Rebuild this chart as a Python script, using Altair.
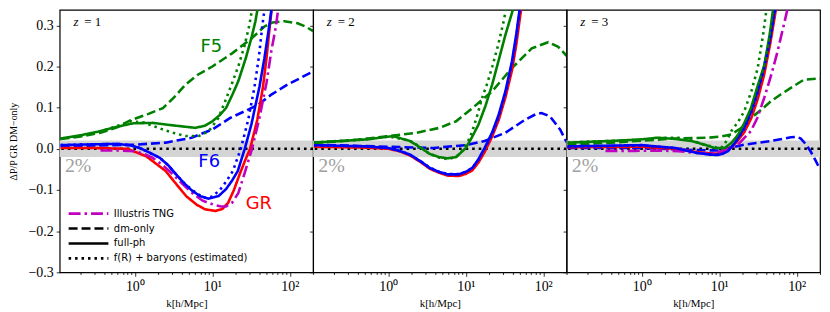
import altair as alt
import pandas as pd

# ---------------- axes ranges ----------------
K_DOMAIN = [0.107, 200]
V_DOMAIN = [-0.3, 0.3375]

X_TICKS = [0.2, 0.3, 0.4, 0.5, 0.6, 0.7, 0.8, 0.9, 1, 2, 3, 4, 5, 6, 7, 8, 9,
           10, 20, 30, 40, 50, 60, 70, 80, 90, 100, 200]
Y_TICKS = [-0.3, -0.2, -0.1, 0.0, 0.1, 0.2, 0.3]

MODEL_NAMES = ["GR", "TNG", "F6", "F5"]
MODEL_COLORS = ["#ff0000", "#bf00bf", "#0000ff", "#008000"]
KIND_NAMES = ["Illustris TNG", "dm-only", "full-ph", "f(R) + baryons (estimated)"]
KIND_COLORS = ["#bf00bf", "#000000", "#000000", "#000000"]
KIND_DASHES = [[12, 4, 2.5, 4], [9, 4], [1, 0], [2.5, 4]]

# ---------------- z = 1 ----------------
Z1_GR_PH_K = [0.11, 0.3, 0.8, 1.4, 2.5, 3.5, 4.6, 6.3, 8.1, 11, 13.5, 16, 19, 22.5, 26.5, 30.7, 38, 45, 50, 55, 60]
Z1_GR_PH_V = [0.002, 0.002, 0.0, -0.018, -0.054, -0.088, -0.115, -0.136, -0.147, -0.151, -0.146, -0.131, -0.1, -0.062, -0.028, 0.0, 0.07, 0.15, 0.22, 0.296, 0.36]
Z1_TNG_K = [0.36, 0.6, 1.0, 1.3, 1.7, 2.3, 3.1, 4.2, 5.7, 7.5, 10.5, 13, 15, 18, 21.6, 26, 32.5, 40, 50, 58, 66, 72]
Z1_TNG_V = [-0.004, -0.004, -0.006, -0.012, -0.022, -0.04, -0.062, -0.087, -0.11, -0.126, -0.136, -0.14, -0.14, -0.131, -0.108, -0.06, 0.0, 0.07, 0.16, 0.24, 0.296, 0.35]
Z1_F6_PH_K = [0.11, 0.3, 0.6, 0.9, 1.15, 1.5, 2.1, 2.7, 3.4, 4.4, 5.5, 7, 8.9, 12, 15, 18, 21.3, 26.2, 32, 40.5, 47, 54, 60]
Z1_F6_PH_V = [0.009, 0.011, 0.012, 0.008, 0.002, -0.008, -0.022, -0.04, -0.062, -0.085, -0.102, -0.115, -0.121, -0.115, -0.098, -0.077, -0.054, 0.0, 0.06, 0.15, 0.22, 0.296, 0.36]
Z1_F5_PH_K = [0.11, 0.2, 0.36, 0.6, 0.95, 1.7, 3.1, 6, 8, 10, 12.5, 15, 18, 21.6, 27, 32, 36, 40]
Z1_F5_PH_V = [0.025, 0.033, 0.043, 0.054, 0.062, 0.063, 0.057, 0.051, 0.056, 0.067, 0.082, 0.099, 0.13, 0.164, 0.22, 0.27, 0.31, 0.36]
Z1_F6_DM_K = [0.11, 0.3, 1, 2.5, 5.4, 10, 17, 26, 39, 57, 93, 140, 200]
Z1_F6_DM_V = [0.006, 0.008, 0.01, 0.015, 0.027, 0.047, 0.075, 0.091, 0.107, 0.131, 0.156, 0.173, 0.188]
Z1_F5_DM_K = [0.11, 0.2, 0.36, 0.6, 0.87, 1.5, 2.3, 3.2, 4.5, 6.5, 10, 18, 32, 47, 60, 85, 126, 160, 200]
Z1_F5_DM_V = [0.024, 0.03, 0.039, 0.053, 0.069, 0.085, 0.099, 0.125, 0.156, 0.18, 0.2, 0.232, 0.268, 0.297, 0.307, 0.31, 0.305, 0.297, 0.286]
Z1_F6_EST_K = [0.11, 0.3, 0.6, 0.9, 1.15, 1.5, 2.1, 2.7, 3.4, 4.4, 5.5, 7, 8, 10, 12.5, 15, 18.4, 23.3, 29, 35, 40, 44, 48]
Z1_F6_EST_V = [0.009, 0.011, 0.012, 0.008, 0.002, -0.008, -0.022, -0.04, -0.062, -0.085, -0.1, -0.114, -0.119, -0.116, -0.1, -0.08, -0.054, 0.0, 0.07, 0.15, 0.225, 0.296, 0.35]
Z1_F5_EST_K = [0.11, 0.2, 0.36, 0.6, 0.9, 1.3, 1.7, 2.3, 3.1, 4.5, 6.7, 9, 12, 14.6, 18, 21.6, 26, 30, 34]
Z1_F5_EST_V = [0.025, 0.032, 0.042, 0.056, 0.067, 0.064, 0.056, 0.047, 0.039, 0.031, 0.031, 0.043, 0.075, 0.115, 0.16, 0.2, 0.25, 0.3, 0.36]

# ---------------- z = 2 ----------------
Z2_GR_PH_K = [0.11, 0.5, 1, 1.4, 1.9, 2.6, 3.4, 4.5, 5.8, 8.1, 10, 12.2, 14.6, 17.5, 21.9, 26.6, 32.5, 39.4, 45, 51, 55]
Z2_GR_PH_V = [0.005, 0.003, 0.0, -0.006, -0.016, -0.032, -0.048, -0.058, -0.065, -0.066, -0.061, -0.052, -0.033, -0.008, 0.03, 0.07, 0.125, 0.19, 0.255, 0.33, 0.37]
Z2_F6_PH_K = [0.11, 0.5, 1, 1.4, 1.9, 2.6, 3.4, 4.5, 5.8, 8.1, 10, 12.2, 14.6, 17.5, 21.9, 26.6, 32.5, 39.4, 45, 51]
Z2_F6_PH_V = [0.009, 0.006, 0.002, -0.005, -0.014, -0.03, -0.046, -0.056, -0.062, -0.062, -0.056, -0.046, -0.025, 0.002, 0.04, 0.083, 0.14, 0.212, 0.28, 0.357]
Z2_F5_PH_K = [0.11, 0.54, 1.15, 1.9, 2.6, 3.4, 4.5, 5.8, 7.5, 10, 12, 14.6, 18, 21.9, 27, 32.5, 38, 44]
Z2_F5_PH_V = [0.015, 0.023, 0.031, 0.019, 0.003, -0.012, -0.02, -0.023, -0.02, 0.002, 0.028, 0.059, 0.105, 0.156, 0.22, 0.277, 0.32, 0.36]
Z2_F6_DM_K = [0.11, 0.3, 1, 3.8, 10, 17.5, 32.4, 58.6, 80, 95, 122, 165, 200]
Z2_F6_DM_V = [0.01, 0.008, 0.005, 0.002, 0.009, 0.019, 0.039, 0.071, 0.084, 0.087, 0.079, 0.047, 0.016]
Z2_F5_DM_K = [0.11, 0.32, 1.0, 2.3, 4.6, 7.5, 12.2, 21.9, 39.4, 71, 116, 156, 200]
Z2_F5_DM_V = [0.015, 0.02, 0.031, 0.039, 0.051, 0.067, 0.099, 0.14, 0.196, 0.244, 0.259, 0.248, 0.226]
Z2_F6_EST_K = [0.11, 0.5, 1, 1.4, 1.9, 2.6, 3.4, 4.5, 5.8, 8.1, 10, 12.2, 14.6, 17.5, 21.9, 26.6, 32.5, 39.4, 45, 51]
Z2_F6_EST_V = [0.008, 0.006, 0.002, -0.005, -0.014, -0.03, -0.045, -0.056, -0.061, -0.061, -0.056, -0.046, -0.026, 0.0, 0.036, 0.078, 0.135, 0.205, 0.272, 0.35]
Z2_F5_EST_K = [0.11, 0.54, 1.0, 1.9, 2.6, 3.4, 4.5, 5.8, 7.5, 9, 10.5, 12, 14, 16, 19, 22, 26, 30, 35]
Z2_F5_EST_V = [0.015, 0.024, 0.03, 0.02, 0.004, -0.012, -0.021, -0.025, -0.02, -0.005, 0.015, 0.04, 0.08, 0.12, 0.16, 0.2, 0.25, 0.3, 0.36]

# ---------------- z = 3 ----------------
Z3_GR_PH_K = [0.11, 1, 2.7, 5.2, 7.5, 9.6, 11, 12.9, 16, 21, 26, 31.3, 38, 46, 56]
Z3_GR_PH_V = [0.004, 0.005, 0.0, -0.008, -0.011, -0.012, -0.009, -0.002, 0.012, 0.04, 0.075, 0.12, 0.18, 0.26, 0.357]
Z3_TNG_K = [0.34, 0.8, 1.6, 3, 5.3, 7.5, 9.6, 12, 17.4, 25.6, 31, 38, 47, 56.5, 68, 80]
Z3_TNG_V = [-0.005, -0.005, -0.004, -0.006, -0.01, -0.011, -0.008, -0.003, 0.01, 0.043, 0.075, 0.123, 0.18, 0.236, 0.3, 0.357]
Z3_F6_PH_K = [0.11, 1, 2.7, 5.2, 7.5, 9.6, 11, 12.9, 16, 21, 26, 31.3, 38, 46, 54]
Z3_F6_PH_V = [0.006, 0.009, 0.002, -0.01, -0.014, -0.015, -0.012, -0.006, 0.015, 0.051, 0.092, 0.14, 0.2, 0.277, 0.357]
Z3_F5_PH_K = [0.11, 0.5, 1, 1.6, 2.7, 4.4, 6.5, 8.7, 11.7, 14.5, 17.6, 21, 25.7, 31, 38.3, 45, 51]
Z3_F5_PH_V = [0.015, 0.02, 0.023, 0.027, 0.024, 0.019, 0.01, 0.002, 0.002, 0.015, 0.035, 0.062, 0.099, 0.15, 0.204, 0.28, 0.357]
Z3_F6_DM_K = [0.11, 1, 4.4, 9.6, 14, 21, 30, 46, 65, 84, 100, 113, 130, 151, 175, 200]
Z3_F6_DM_V = [0.002, 0.002, -0.003, -0.004, 0.003, 0.01, 0.014, 0.019, 0.024, 0.028, 0.029, 0.025, 0.012, -0.006, -0.028, -0.05]
Z3_F5_DM_K = [0.11, 0.4, 1, 2.7, 7.2, 10.5, 14.3, 19, 25.7, 35, 46, 62, 84, 124, 200]
Z3_F5_DM_V = [0.01, 0.015, 0.02, 0.025, 0.027, 0.03, 0.035, 0.05, 0.075, 0.095, 0.115, 0.132, 0.148, 0.168, 0.171]
Z3_F6_EST_K = [0.11, 1, 2.7, 5.2, 7.5, 9.6, 11, 12.9, 16, 21, 26, 31.3, 38, 46, 54]
Z3_F6_EST_V = [0.005, 0.008, 0.002, -0.01, -0.013, -0.014, -0.012, -0.005, 0.014, 0.048, 0.088, 0.135, 0.195, 0.27, 0.35]
Z3_F5_EST_K = [0.11, 0.5, 1, 2, 3, 4.4, 6.5, 8.7, 10.6, 12.5, 14.3, 17.5, 21, 26, 31.4, 37, 42]
Z3_F5_EST_V = [0.015, 0.02, 0.022, 0.027, 0.027, 0.02, 0.01, 0.004, 0.002, 0.02, 0.043, 0.065, 0.091, 0.14, 0.196, 0.28, 0.357]

# draw order: first listed is drawn first
SERIES = [
    (1, "F6", "dm-only", Z1_F6_DM_K, Z1_F6_DM_V),
    (1, "F5", "dm-only", Z1_F5_DM_K, Z1_F5_DM_V),
    (1, "GR", "full-ph", Z1_GR_PH_K, Z1_GR_PH_V),
    (1, "TNG", "Illustris TNG", Z1_TNG_K, Z1_TNG_V),
    (1, "F6", "full-ph", Z1_F6_PH_K, Z1_F6_PH_V),
    (1, "F5", "full-ph", Z1_F5_PH_K, Z1_F5_PH_V),
    (1, "F6", "f(R) + baryons (estimated)", Z1_F6_EST_K, Z1_F6_EST_V),
    (1, "F5", "f(R) + baryons (estimated)", Z1_F5_EST_K, Z1_F5_EST_V),
    (2, "F6", "dm-only", Z2_F6_DM_K, Z2_F6_DM_V),
    (2, "F5", "dm-only", Z2_F5_DM_K, Z2_F5_DM_V),
    (2, "GR", "full-ph", Z2_GR_PH_K, Z2_GR_PH_V),
    (2, "F6", "full-ph", Z2_F6_PH_K, Z2_F6_PH_V),
    (2, "F5", "full-ph", Z2_F5_PH_K, Z2_F5_PH_V),
    (2, "F6", "f(R) + baryons (estimated)", Z2_F6_EST_K, Z2_F6_EST_V),
    (2, "F5", "f(R) + baryons (estimated)", Z2_F5_EST_K, Z2_F5_EST_V),
    (3, "F6", "dm-only", Z3_F6_DM_K, Z3_F6_DM_V),
    (3, "F5", "dm-only", Z3_F5_DM_K, Z3_F5_DM_V),
    (3, "GR", "full-ph", Z3_GR_PH_K, Z3_GR_PH_V),
    (3, "TNG", "Illustris TNG", Z3_TNG_K, Z3_TNG_V),
    (3, "F6", "full-ph", Z3_F6_PH_K, Z3_F6_PH_V),
    (3, "F5", "full-ph", Z3_F5_PH_K, Z3_F5_PH_V),
    (3, "F6", "f(R) + baryons (estimated)", Z3_F6_EST_K, Z3_F6_EST_V),
    (3, "F5", "f(R) + baryons (estimated)", Z3_F5_EST_K, Z3_F5_EST_V),
]

# annotations
BAND = [-0.02, 0.02]
Z_LABEL_POS = (0.161, 0.307)
PCT_POS = (0.125, -0.042)
MODEL_LABELS = ["F5", "F6", "GR"]
MODEL_LABEL_K = [7.05, 6.6, 27.0]
MODEL_LABEL_V = [0.247, -0.032, -0.135]
MODEL_LABEL_COLORS = ["#008000", "#0000ff", "#ff0000"]

rows = []
for i, (z, m, kd, ks, vs) in enumerate(SERIES):
    for k, v in zip(ks, vs):
        rows.append(dict(z=z, model=m, kind=kd, sid=f"{i:02d}", k=k, v=v))
df = pd.DataFrame(rows)

SERIF = "Liberation Serif"
SANS = "DejaVu Sans"

x_scale = alt.Scale(type="log", domain=K_DOMAIN, nice=False)
y_scale = alt.Scale(domain=V_DOMAIN, nice=False, zero=False)

MAJOR_TEST = "datum.value == 1 || datum.value == 10 || datum.value == 100"


def x_axis():
    return alt.Axis(
        values=X_TICKS,
        labelExpr="datum.value == 1 ? '10⁰' : datum.value == 10 ? '10¹' : datum.value == 100 ? '10²' : ''",
        tickSize={"condition": {"test": MAJOR_TEST, "value": 4}, "value": 2.2},
        tickColor="black", tickWidth=0.8,
        title="k[h/Mpc]", titleFont=SERIF, titleFontSize=11, titleFontWeight="normal",
        titleColor="black", titlePadding=4,
        labelFont=SERIF, labelFontSize=14, labelColor="black", labelPadding=3,
        labelOverlap=False, labelFlush=False, grid=False, domain=False,
    )


def y_axis(first):
    extra = {}
    if first:
        extra = dict(titleX=-46, titleBaseline="middle")
    return alt.Axis(
        values=Y_TICKS,
        labels=first,
        labelExpr="replace(format(datum.value, '.1f'), '-', '−')",
        tickSize=3.5, tickColor="black", tickWidth=0.8,
        title="ΔP/P GR DM−only" if first else None,
        titleFont=SERIF, titleFontSize=10, titleFontWeight="normal", titleColor="black",
        labelFont=SERIF, labelFontSize=14, labelColor="black", labelPadding=3,
        grid=False, domain=False, **extra,
    )


def panel(z, first):
    d = df[df.z == z]
    XA = x_axis()
    YA = y_axis(first)

    def X(f):
        return alt.X(f, scale=x_scale, axis=XA)

    def Y(f):
        return alt.Y(f, scale=y_scale, axis=YA)

    band = alt.Chart(pd.DataFrame({"lo": [BAND[0]], "hi": [BAND[1]]})).mark_rect(
        color="#d4d4d4").encode(y=Y("lo:Q"), y2="hi:Q")
    zero = alt.Chart(pd.DataFrame({"v": [0.0]})).mark_rule(
        color="black", strokeWidth=2.6, strokeDash=[2.6, 4], strokeCap="butt").encode(y=Y("v:Q"))
    lines = alt.Chart(d).mark_line(clip=True, strokeWidth=2.6, strokeCap="butt").encode(
        x=X("k:Q"), y=Y("v:Q"),
        stroke=alt.Stroke("model:N", scale=alt.Scale(domain=MODEL_NAMES, range=MODEL_COLORS), legend=None),
        strokeDash=alt.StrokeDash("kind:N", scale=alt.Scale(domain=KIND_NAMES, range=KIND_DASHES), legend=None),
        detail="sid:N",
    )
    zl = pd.DataFrame({"k": [Z_LABEL_POS[0]], "v": [Z_LABEL_POS[1]]})
    zt1 = alt.Chart(zl).mark_text(font=SERIF, fontSize=13, fontStyle="italic", align="left",
                                  baseline="middle", color="black", text="z").encode(x=X("k:Q"), y=Y("v:Q"))
    zt2 = alt.Chart(zl).mark_text(font=SERIF, fontSize=13, align="left", baseline="middle",
                                  color="black", dx=11, text=f"= {z}").encode(x=X("k:Q"), y=Y("v:Q"))
    pct = alt.Chart(pd.DataFrame({"k": [PCT_POS[0]], "v": [PCT_POS[1]]})).mark_text(
        font=SERIF, fontSize=20, align="left", baseline="middle", color="#a0a0a0", text="2%").encode(
        x=X("k:Q"), y=Y("v:Q"))
    layers = [band, zero, lines, zt1, zt2, pct]
    if first:
        lab = pd.DataFrame({"t": MODEL_LABELS, "k": MODEL_LABEL_K, "v": MODEL_LABEL_V, "c": MODEL_LABEL_COLORS})
        mlab = alt.Chart(lab).mark_text(font=SANS, fontSize=18, align="left", baseline="middle").encode(
            x=X("k:Q"), y=Y("v:Q"), text="t:N", color=alt.Color("c:N", scale=None))
        leg_cfg = alt.Legend(orient="none", legendX=22.5, legendY=198.5, title=None,
                             symbolType="M-4,0H4", symbolSize=100, symbolStrokeWidth=2.6,
                             labelFont=SANS, labelFontSize=10, labelColor="black",
                             labelOffset=19, labelLimit=300, padding=0, rowPadding=3)
        leg = alt.Chart(d).transform_filter("false").mark_line(strokeWidth=2.6, strokeCap="butt").encode(
            x=X("k:Q"), y=Y("v:Q"),
            stroke=alt.Stroke("kind:N", scale=alt.Scale(domain=KIND_NAMES, range=KIND_COLORS), legend=leg_cfg),
            strokeDash=alt.StrokeDash("kind:N", scale=alt.Scale(domain=KIND_NAMES, range=KIND_DASHES), legend=leg_cfg),
        )
        layers += [mlab, leg]
    ch = alt.layer(*layers).properties(width=255, height=264)
    if first:
        ch = ch.resolve_scale(stroke="independent", strokeDash="independent")
    return ch


chart = alt.hconcat(panel(1, True), panel(2, False), panel(3, False), spacing=0, bounds="flush").configure(
    padding={"left": 0, "top": 0, "right": 0, "bottom": 0}
).configure_view(stroke="black", strokeWidth=1.2)

chart.save("out.html", embed_options={"renderer": "svg", "actions": False})
